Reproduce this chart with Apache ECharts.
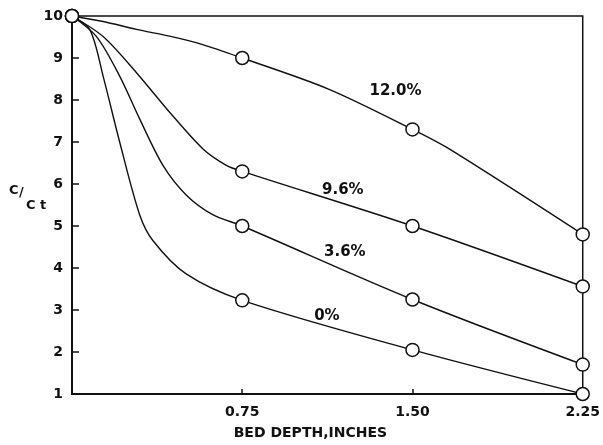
<!DOCTYPE html>
<html>
<head>
<meta charset="utf-8">
<script src="https://cdn.jsdelivr.net/npm/echarts@6/dist/echarts.min.js"></script>
<style>
  html, body { margin: 0; padding: 0; background: #fff; }
  #chart { width: 603px; height: 445px; }
</style>
</head>
<body>
<div id="chart"></div>
<script>
// Bed depth (inches) at which concentrations were measured
const depths = [0, 0.75, 1.50, 2.25];
const xTickLabels = ['', '0.75', '1.50', '2.25'];
const yTickLabels = ['1', '2', '3', '4', '5', '6', '7', '8', '9', '10'];

// Measured C/Ct at each depth, per moisture content
const curveNames = ['12.0%', '9.6%', '3.6%', '0%'];
const measured12 = [10, 9.0, 7.3, 4.8];
const measured96 = [10, 6.3, 5.0, 3.56];
const measured36 = [10, 5.0, 3.25, 1.7];
const measured0  = [10, 3.23, 2.05, 1.0];

// Faired curves through the measurements, [depth, C/Ct]
const curve12 = [[0, 10], [0.137, 9.87], [0.284, 9.68], [0.43, 9.52], [0.576, 9.32], [0.75, 9.0], [1.13, 8.26], [1.5, 7.3], [1.66, 6.84], [2.25, 4.8]];
const curve96 = [[0, 10], [0.137, 9.51], [0.284, 8.65], [0.43, 7.71], [0.576, 6.84], [0.678, 6.45], [0.75, 6.3], [1.5, 5.0], [2.25, 3.56]];
const curve36 = [[0, 10], [0.108, 9.51], [0.21, 8.57], [0.298, 7.55], [0.40, 6.45], [0.503, 5.74], [0.62, 5.27], [0.75, 5.0], [1.5, 3.25], [2.25, 1.7]];
const curve0  = [[0, 10], [0.079, 9.67], [0.137, 8.57], [0.21, 7.0], [0.298, 5.27], [0.357, 4.65], [0.503, 3.86], [0.75, 3.23], [1.5, 2.05], [2.25, 1.0]];

// Where each curve's name is written, [depth, C/Ct]
const nameSpots = [[1.425, 8.21], [1.193, 5.85], [1.202, 4.39], [1.123, 2.86]];

const measuredSets = [measured12, measured96, measured36, measured0];
const curveSets = [curve12, curve96, curve36, curve0];

const FONT = 'DejaVu Sans';
const INK = '#111';
const series = [];

curveSets.forEach(function (pts) {
  series.push({
    type: 'line',
    data: pts,
    smooth: 0.3,
    showSymbol: false,
    symbol: 'none',
    lineStyle: { color: INK, width: 1.4 },
    z: 2,
    silent: true
  });
});

measuredSets.forEach(function (vals) {
  series.push({
    type: 'scatter',
    data: depths.map(function (d, j) { return [d, vals[j]]; }),
    symbol: 'circle',
    symbolSize: 13,
    itemStyle: { color: '#fff', borderColor: INK, borderWidth: 1.5, opacity: 1 },
    clip: false,
    z: 5,
    silent: true
  });
});

series.push({
  type: 'scatter',
  data: nameSpots.map(function (p, i) { return { value: p, name: curveNames[i] }; }),
  symbolSize: 0,
  itemStyle: { opacity: 1 },
  label: {
    show: true,
    position: 'inside',
    formatter: '{b}',
    color: INK,
    fontFamily: FONT,
    fontWeight: 'bold',
    fontSize: 15
  },
  z: 6,
  silent: true
});

const chart = echarts.init(document.getElementById('chart'), null, { renderer: 'canvas' });
chart.setOption({
  animation: false,
  backgroundColor: '#fff',
  grid: {
    left: 72, right: 18, top: 16, bottom: 47,
    show: true, borderColor: INK, borderWidth: 1.5,
    containLabel: false
  },
  xAxis: {
    type: 'value',
    min: 0, max: 2.25, interval: 0.75,
    name: 'BED DEPTH,INCHES',
    nameLocation: 'middle',
    nameGap: 32,
    nameTextStyle: { color: INK, fontFamily: FONT, fontWeight: 'bold', fontSize: 14, padding: [0, 34, 0, 0] },
    axisLine: { lineStyle: { color: INK, width: 2 } },
    axisTick: { inside: true, length: 5, lineStyle: { color: INK, width: 1.5 } },
    axisLabel: {
      margin: 11,
      color: INK, fontFamily: FONT, fontWeight: 'bold', fontSize: 14,
      formatter: function (v) { return xTickLabels[Math.round(v / 0.75)]; }
    },
    splitLine: { show: false }
  },
  yAxis: {
    type: 'value',
    min: 1, max: 10, interval: 1,
    axisLine: { show: true, lineStyle: { color: INK, width: 2 } },
    axisTick: { show: true, inside: true, length: 7, lineStyle: { color: INK, width: 1.5 } },
    axisLabel: {
      margin: 9,
      color: INK, fontFamily: FONT, fontWeight: 'bold', fontSize: 14,
      formatter: function (v) { return yTickLabels[Math.round(v) - 1]; }
    },
    splitLine: { show: false }
  },
  graphic: [
    { type: 'text', left: 9, top: 184, style: { text: 'C', fill: INK, font: 'bold 13px "DejaVu Sans"' } },
    { type: 'text', left: 19, top: 186, style: { text: '/', fill: INK, font: 'bold 13px "DejaVu Sans"' } },
    { type: 'text', left: 26, top: 199, style: { text: 'C t', fill: INK, font: 'bold 13px "DejaVu Sans"' } }
  ],
  series: series
});
</script>
</body>
</html>
